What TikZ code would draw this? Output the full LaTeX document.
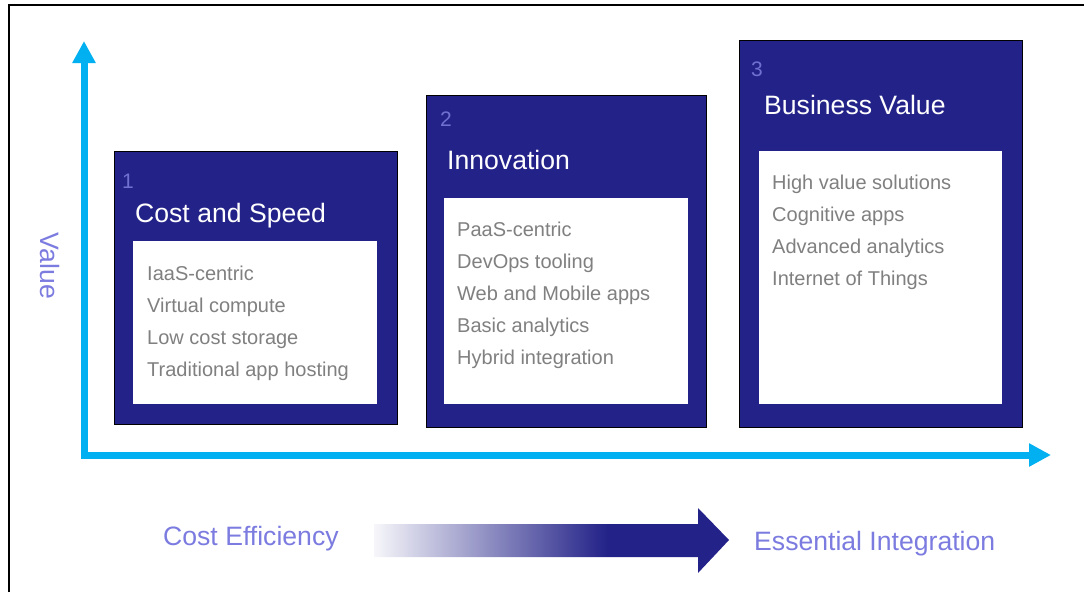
\documentclass[tikz,border=0pt]{standalone}
\usepackage{fontspec}
\setmainfont{Liberation Sans}
\usetikzlibrary{arrows.meta}
\definecolor{navy}{RGB}{35,34,136}
\definecolor{axiscyan}{RGB}{0,176,240}
\definecolor{lblpurple}{RGB}{123,123,224}
\definecolor{numpurple}{RGB}{112,112,208}
\definecolor{itemgray}{RGB}{128,128,128}
\pgfdeclarehorizontalshading{gradarrow}{100bp}{color(0bp)=(white!96!navy); color(25bp)=(white!96!navy); color(57.8bp)=(navy); color(100bp)=(navy)}
\begin{document}
\begin{tikzpicture}[x=1pt,y=-1pt,
  outerbox/.style={draw=black, line width=1pt, fill=navy, anchor=north west, inner sep=0pt},
  innerbox/.style={fill=white, anchor=north west, inner sep=0pt},
  num/.style={anchor=base west, inner sep=0pt, text=numpurple, font=\fontsize{21}{24}\selectfont},
  boxtitle/.style={anchor=base west, inner sep=0pt, text=white, font=\fontsize{26.6}{30}\selectfont},
  item/.style={anchor=base west, inner sep=0pt, text=itemgray, font=\fontsize{20}{24}\selectfont},
  lbl/.style={inner sep=0pt, text=lblpurple, font=\fontsize{26.6}{30}\selectfont},
  axis/.style={draw=axiscyan, line width=7pt, miter limit=10,
    {Triangle[length=22pt,width=22pt]}-{Triangle[length=22pt,width=22pt]}},
  frameline/.style={draw=black, line width=1.2pt}
]
\useasboundingbox (0,0) rectangle (1084,592);
% frame
\coordinate (fbl) at (9,592);
\coordinate (ftl) at (9,5);
\coordinate (ftr) at (1084,5);
\draw[frameline] (fbl) -- (ftl) -- (ftr);

% axes
\coordinate (ytip) at (84,41);
\coordinate (origin) at (84,455);
\coordinate (xtip) at (1051,455);
\draw[axis] (ytip) -- (origin) -- (xtip);

% boxes
\node[outerbox, minimum width=283pt, minimum height=273pt] (b1) at (114,151) {};
\node[innerbox, minimum width=244pt, minimum height=163pt] (i1) at (133,241) {};
\node[num] (n1) at (122,188) {1};
\node[boxtitle] (t1) at (135,222) {Cost and Speed};
\foreach \t [count=\k from 0] in {IaaS-centric,Virtual compute,Low cost storage,Traditional app hosting}
  \node[item] (a\k) at (147,280+32*\k) {\t};

\node[outerbox, minimum width=280pt, minimum height=332pt] (b2) at (426,95) {};
\node[innerbox, minimum width=244pt, minimum height=206pt] (i2) at (444,197.5) {};
\node[num] (n2) at (440,126.7) {2};
\node[boxtitle] (t2) at (447,169) {Innovation};
\foreach \t [count=\k from 0] in {PaaS-centric,DevOps tooling,Web and Mobile apps,Basic analytics,Hybrid integration}
  \node[item] (c\k) at (457,236+32*\k) {\t};

\node[outerbox, minimum width=283pt, minimum height=387pt] (b3) at (738.5,40) {};
\node[innerbox, minimum width=243.5pt, minimum height=253pt] (i3) at (758.3,150.7) {};
\node[num] (n3) at (751,76.7) {3};
\node[boxtitle] (t3) at (764,114) {Business Value};
\foreach \t [count=\k from 0] in {High value solutions,Cognitive apps,Advanced analytics,Internet of Things}
  \node[item] (d\k) at (772,189.3+32*\k) {\t};

% axis label
\node[lbl, rotate=-90] (val) at (50,266) {Value};

% bottom labels
\node[lbl, anchor=base west] (ce) at (163,545.5) {Cost Efficiency};
\node[lbl, anchor=base west] (ei) at (754,550) {Essential Integration};

% gradient arrow
\coordinate (gs) at (374,540);
\coordinate (gtip) at (729,540);
\shade[shading=gradarrow] (374,524) -- (698,524) -- (698,508) -- (gtip) -- (698,573) -- (698,557) -- (374,557) -- cycle;
\end{tikzpicture}
\end{document}
